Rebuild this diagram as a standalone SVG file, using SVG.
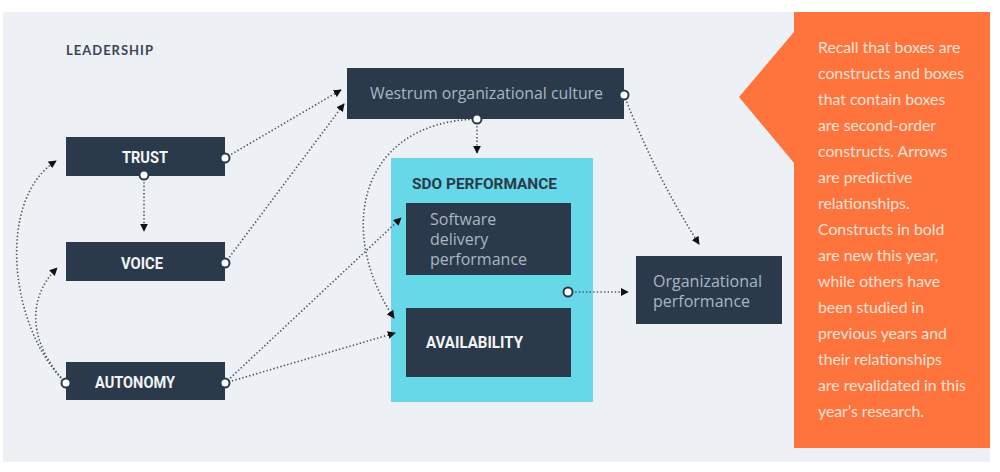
<svg xmlns="http://www.w3.org/2000/svg" width="1000" height="472" viewBox="0 0 1000 472">
<defs>
<style>
.box{fill:#2b3a4a}
.lbl{font-family:Roboto,"Liberation Sans",sans-serif;font-weight:700;font-size:17px;fill:#f2f4f6}
.lite{font-family:"Open Sans","Noto Sans",sans-serif;font-size:16px;fill:#aab6c2}
.note{font-family:Lato,"Noto Sans",sans-serif;font-size:15.8px;fill:#fde3d6}
.con{fill:none;stroke:#4a5560;stroke-width:1.6;stroke-dasharray:1.4 2.2}
.port{fill:#ffffff;stroke:#2b3a4a;stroke-width:2}
</style>
<marker id="arr" viewBox="0 0 10 10" refX="9" refY="5" markerWidth="8" markerHeight="8" markerUnits="userSpaceOnUse" orient="auto">
<path d="M0,0 L10,5 L0,10 z" fill="#111"/>
</marker>
</defs>
<rect x="0" y="0" width="1000" height="472" fill="#ffffff"/>
<rect x="3" y="12" width="987" height="450" fill="#edf1f5"/>
<path d="M794,12 H990 V448 H794 V163 L739,97 L794,32 Z" fill="#ff733d"/>
<g id="note">
<text class="note" x="818" y="53">Recall that boxes are</text>
<text class="note" x="818" y="79">constructs and boxes</text>
<text class="note" x="818" y="105">that contain boxes</text>
<text class="note" x="818" y="131">are second-order</text>
<text class="note" x="818" y="157">constructs. Arrows</text>
<text class="note" x="818" y="183">are predictive</text>
<text class="note" x="818" y="209">relationships.</text>
<text class="note" x="818" y="235">Constructs in bold</text>
<text class="note" x="818" y="261">are new this year,</text>
<text class="note" x="818" y="287">while others have</text>
<text class="note" x="818" y="313">been studied in</text>
<text class="note" x="818" y="339">previous years and</text>
<text class="note" x="818" y="365">their relationships</text>
<text class="note" x="818" y="391">are revalidated in this</text>
<text class="note" x="818" y="417">year’s research.</text>
</g>
<text x="66" y="55" font-family="Lato,'Noto Sans',sans-serif" font-weight="700" font-size="13" letter-spacing="1" fill="#3a4654">LEADERSHIP</text>
<g id="sdo">
<rect x="391" y="158" width="202" height="244" fill="#66d8e8"/>
<text x="412" y="189" font-family="Roboto,'Liberation Sans',sans-serif" font-weight="700" font-size="15" fill="#2b3a4a" textLength="145" lengthAdjust="spacingAndGlyphs">SDO PERFORMANCE</text>
</g>
<g id="sdp">
<rect class="box" x="406" y="203" width="165" height="72"/>
<text class="lite" x="430" y="225">Software</text>
<text class="lite" x="430" y="245">delivery</text>
<text class="lite" x="430" y="265">performance</text>
</g>
<g id="availability">
<rect class="box" x="406" y="308" width="165" height="69"/>
<text class="lbl" x="426" y="348" textLength="97" lengthAdjust="spacingAndGlyphs">AVAILABILITY</text>
</g>
<g id="trust">
<rect class="box" x="66" y="137" width="159" height="39"/>
<text class="lbl" x="122" y="163" textLength="46" lengthAdjust="spacingAndGlyphs">TRUST</text>
</g>
<g id="voice">
<rect class="box" x="66" y="242" width="159" height="39"/>
<text class="lbl" x="121" y="269" textLength="42" lengthAdjust="spacingAndGlyphs">VOICE</text>
</g>
<g id="autonomy">
<rect class="box" x="66" y="362" width="159" height="38"/>
<text class="lbl" x="95" y="388" textLength="80" lengthAdjust="spacingAndGlyphs">AUTONOMY</text>
</g>
<g id="westrum">
<rect class="box" x="347" y="68" width="277" height="51"/>
<text class="lite" x="370" y="99" textLength="233" lengthAdjust="spacingAndGlyphs">Westrum organizational culture</text>
</g>
<g id="orgperf">
<rect class="box" x="636" y="256" width="146" height="68"/>
<text class="lite" x="653" y="287">Organizational</text>
<text class="lite" x="653" y="307">performance</text>
</g>
<g id="connectors">
<path class="con" d="M225,158 L341,90" marker-end="url(#arr)"/>
<path class="con" d="M225,263 L344,104" marker-end="url(#arr)"/>
<path class="con" d="M144,175 L144,231" marker-end="url(#arr)"/>
<path class="con" d="M66,383 C10,330 -5,200 56,161" marker-end="url(#arr)"/>
<path class="con" d="M66,383 C30,345 25,300 57,268" marker-end="url(#arr)"/>
<path class="con" d="M225,383 L401,218" marker-end="url(#arr)"/>
<path class="con" d="M225,383 L395,333" marker-end="url(#arr)"/>
<path class="con" d="M477,119 C360,122 335,230 394,318" marker-end="url(#arr)"/>
<path class="con" d="M477,119 L477,153" marker-end="url(#arr)"/>
<path class="con" d="M624,95 Q655,175 699,244" marker-end="url(#arr)"/>
<path class="con" d="M568,292 L628,292" marker-end="url(#arr)"/>
<circle class="port" cx="225" cy="158" r="4.5"/>
<circle class="port" cx="144" cy="175" r="4.5"/>
<circle class="port" cx="225" cy="263" r="4.5"/>
<circle class="port" cx="66" cy="383" r="4.5"/>
<circle class="port" cx="225" cy="383" r="4.5"/>
<circle class="port" cx="477" cy="119" r="4.5"/>
<circle class="port" cx="624" cy="95" r="4.5"/>
<circle class="port" cx="568" cy="292" r="4.5"/>
</g>
</svg>
